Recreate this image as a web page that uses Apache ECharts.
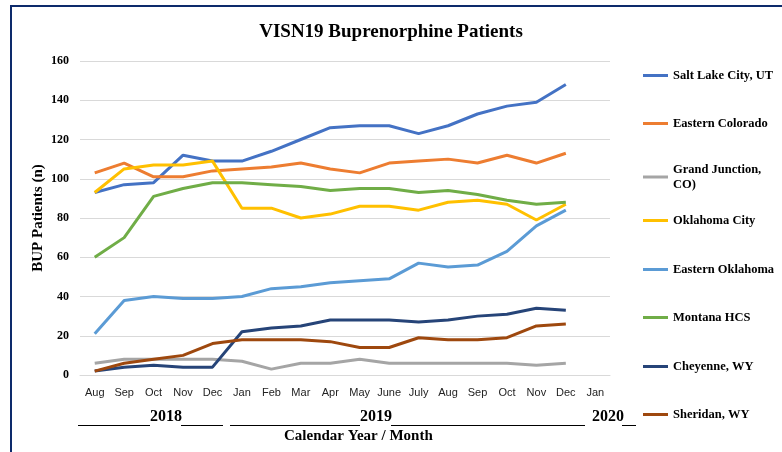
<!DOCTYPE html>
<html>
<head>
<meta charset="utf-8">
<script src="https://cdn.jsdelivr.net/npm/echarts@6/dist/echarts.min.js"></script>
<style>
  html, body { margin: 0; padding: 0; background: #fff; }
  #chart { width: 782px; height: 452px; }
</style>
</head>
<body>
<div id="chart"></div>
<script>
var months = ['Aug', 'Sep', 'Oct', 'Nov', 'Dec', 'Jan', 'Feb', 'Mar', 'Apr', 'May', 'June', 'July',
              'Aug', 'Sep', 'Oct', 'Nov', 'Dec', 'Jan'];

// last Jan has no data yet
var saltLake      = [93, 97, 98, 112, 109, 109, 114, 120, 126, 127, 127, 123, 127, 133, 137, 139, 148, null];
var easternColo   = [103, 108, 101, 101, 104, 105, 106, 108, 105, 103, 108, 109, 110, 108, 112, 108, 113, null];
var grandJunction = [6, 8, 8, 8, 8, 7, 3, 6, 6, 8, 6, 6, 6, 6, 6, 5, 6, null];
var oklahomaCity  = [93, 105, 107, 107, 109, 85, 85, 80, 82, 86, 86, 84, 88, 89, 87, 79, 87, null];
var easternOkla   = [21, 38, 40, 39, 39, 40, 44, 45, 47, 48, 49, 57, 55, 56, 63, 76, 84, null];
var montana       = [60, 70, 91, 95, 98, 98, 97, 96, 94, 95, 95, 93, 94, 92, 89, 87, 88, null];
var cheyenne      = [2, 4, 5, 4, 4, 22, 24, 25, 28, 28, 28, 27, 28, 30, 31, 34, 33, null];
var sheridan      = [2, 6, 8, 10, 16, 18, 18, 18, 17, 14, 14, 19, 18, 18, 19, 25, 26, null];

var seriesNames = ['Salt Lake City, UT', 'Eastern Colorado', 'Grand Junction, CO)', 'Oklahoma City',
                   'Eastern Oklahoma', 'Montana HCS', 'Cheyenne, WY', 'Sheridan, WY'];
var seriesData = [saltLake, easternColo, grandJunction, oklahomaCity, easternOkla, montana, cheyenne, sheridan];
var colors = ['#4472C4', '#ED7D31', '#A5A5A5', '#FFC000', '#5B9BD5', '#70AD47', '#264478', '#9E480E'];

var yearLabels = ['2018', '2019', '2020'];

var serif = '"Liberation Serif", "Times New Roman", serif';
var legendTops = [63, 111, 157, 208, 257, 305, 354, 402];

var chart = echarts.init(document.getElementById('chart'));

var series = [];
var legends = [];
seriesNames.forEach(function (name, i) {
    series.push({
        name: name,
        type: 'line',
        data: seriesData[i],
        symbol: 'none',
        lineStyle: { width: 3, color: colors[i] },
        itemStyle: { color: colors[i] },
        animation: false
    });
    legends.push({
        data: [name],
        left: 638,
        top: legendTops[i],
        icon: 'rect',
        itemWidth: 25,
        itemHeight: 3,
        formatter: function (n) {
            return n === 'Grand Junction, CO)' ? 'Grand Junction,\nCO)' : n;
        },
        textStyle: { fontFamily: serif, fontWeight: 'bold', fontSize: 12.5, color: '#000', lineHeight: 15 }
    });
});

// year row under the month labels
var lineStyle = { stroke: '#000', lineWidth: 1 };
var graphic = [
    { type: 'rect', shape: { x: 11, y: 6, width: 800, height: 460 }, style: { fill: 'none', stroke: '#0d2a6b', lineWidth: 2 } },
    { type: 'line', shape: { x1: 78, y1: 425.5, x2: 150, y2: 425.5 }, style: lineStyle },
    { type: 'text', left: 150, top: 409, style: { text: yearLabels[0], font: 'bold 16px ' + serif, fill: '#000' } },
    { type: 'line', shape: { x1: 181, y1: 425.5, x2: 223, y2: 425.5 }, style: lineStyle },
    { type: 'line', shape: { x1: 230, y1: 425.5, x2: 360, y2: 425.5 }, style: lineStyle },
    { type: 'text', left: 360, top: 409, style: { text: yearLabels[1], font: 'bold 16px ' + serif, fill: '#000' } },
    { type: 'line', shape: { x1: 391, y1: 425.5, x2: 585, y2: 425.5 }, style: lineStyle },
    { type: 'text', left: 592, top: 409, style: { text: yearLabels[2], font: 'bold 16px ' + serif, fill: '#000' } },
    { type: 'line', shape: { x1: 622, y1: 425.5, x2: 636, y2: 425.5 }, style: lineStyle },
    { type: 'text', left: 284, top: 429, style: { text: 'Calendar Year / Month', font: 'bold 15px ' + serif, fill: '#000' } }
];

var option = {
    backgroundColor: '#fff',
    animation: false,
    color: colors,
    title: {
        text: 'VISN19 Buprenorphine Patients',
        left: 'center',
        top: 18,
        textStyle: { fontFamily: serif, fontWeight: 'bold', fontSize: 19, color: '#000' }
    },
    legend: legends,
    grid: { left: 80, right: 172, top: 61, bottom: 77, containLabel: false },
    xAxis: {
        type: 'category',
        data: months,
        boundaryGap: true,
        axisLine: { show: true, lineStyle: { color: '#d9d9d9', width: 1 } },
        axisTick: { show: false },
        axisLabel: { interval: 0, margin: 12, fontFamily: '"Liberation Sans", Arial, sans-serif', fontSize: 11, color: '#222' }
    },
    yAxis: {
        type: 'value',
        min: 0,
        max: 160,
        interval: 20,
        name: 'BUP Patients (n)',
        nameLocation: 'middle',
        nameGap: 34,
        nameMoveOverlap: false,
        nameTextStyle: { fontFamily: serif, fontWeight: 'bold', fontSize: 15, color: '#000' },
        axisLine: { show: false },
        axisTick: { show: false },
        splitLine: { lineStyle: { color: '#d9d9d9', width: 1 } },
        axisLabel: { margin: 11, fontFamily: serif, fontWeight: 'bold', fontSize: 12, color: '#000' }
    },
    graphic: graphic,
    series: series
};

chart.setOption(option);
</script>
</body>
</html>
